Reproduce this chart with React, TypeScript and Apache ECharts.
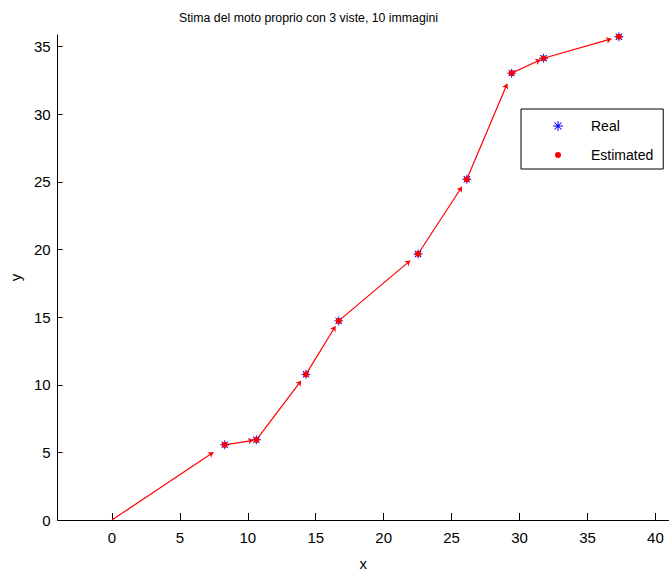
import React, { useEffect, useRef } from "react";
import * as echarts from "echarts";

// Trajectory starts at the origin (first frame, no marker drawn there)
const startX = 0;
const startY = 0;

// Camera positions, ground truth
const realX = [8.3, 10.63, 14.28, 16.69, 22.53, 26.12, 29.42, 31.77, 37.31];
const realY = [5.56, 5.93, 10.77, 14.72, 19.67, 25.19, 33.04, 34.14, 35.73];

// Camera positions, estimated
const estX = [8.3, 10.63, 14.28, 16.69, 22.53, 26.12, 29.42, 31.77, 37.31];
const estY = [5.56, 5.93, 10.77, 14.72, 19.67, 25.19, 33.04, 34.14, 35.73];

// Axis ticks
const xTicks = [0, 5, 10, 15, 20, 25, 30, 35, 40];
const yTicks = [0, 5, 10, 15, 20, 25, 30, 35];
const xRange = [-4, 41];
const yRange = [0, 35.86];

// quiver-like arrows shrink to 90% of the step between consecutive frames
const ARROW_SCALE = 0.9;

const FONT = "'Liberation Sans', Arial, sans-serif";

const asterisk =
  "path://M0,4.5H10V5.5H0Z M4.5,0H5.5V10H4.5Z " +
  "M1.854,1.146L8.854,8.146L8.146,8.854L1.146,1.854Z " +
  "M8.854,1.854L1.854,8.854L1.146,8.146L8.146,1.146Z";
const smallDot = "path://M0,0 M10,10 M5,2 A3,3 0 1 1 5,8 A3,3 0 1 1 5,2 Z";

export default function App() {
  const ref = useRef<HTMLDivElement>(null);

  useEffect(() => {
    if (!ref.current) return;
    const chart = echarts.init(ref.current, undefined, { renderer: "svg" });

    const pathX = [startX, ...estX];
    const pathY = [startY, ...estY];
    const arrows = pathX.slice(0, -1).map((x, i) => {
      const y = pathY[i];
      const dx = pathX[i + 1] - x;
      const dy = pathY[i + 1] - y;
      return { coords: [[x, y], [x + ARROW_SCALE * dx, y + ARROW_SCALE * dy]] };
    });

    const axisCommon = {
      type: "value" as const,
      axisLine: { onZero: false, lineStyle: { color: "#000", width: 1 } },
      splitLine: { show: false },
      nameTextStyle: { fontFamily: FONT, fontSize: 15, color: "#000" },
    };

    chart.setOption({
      animation: false,
      backgroundColor: "#fff",
      title: {
        text: "Stima del moto proprio con 3 viste, 10 immagini",
        left: 308.5,
        top: 12,
        padding: 0,
        textAlign: "center",
        textStyle: { fontFamily: FONT, fontSize: 12.3, fontWeight: "normal", color: "#000" },
      },
      grid: { left: 57, right: 0, top: 35, bottom: 53.7, containLabel: false },
      xAxis: {
        ...axisCommon,
        min: xRange[0],
        max: xRange[1],
        name: "x",
        nameLocation: "middle",
        nameGap: 36,
        axisTick: { inside: true, length: 7, customValues: xTicks, lineStyle: { color: "#000" } },
        axisLabel: {
          customValues: xTicks,
          margin: 10,
          fontFamily: FONT,
          fontSize: 15,
          color: "#000",
        },
      },
      yAxis: {
        ...axisCommon,
        min: yRange[0],
        max: yRange[1],
        name: "y",
        nameLocation: "middle",
        nameGap: 30,
        axisTick: { inside: true, length: 5, customValues: yTicks, lineStyle: { color: "#000" } },
        axisLabel: {
          customValues: yTicks,
          margin: 7,
          fontFamily: FONT,
          fontSize: 15,
          color: "#000",
        },
      },
      legend: {
        orient: "vertical",
        left: 521,
        top: 109,
        itemWidth: 56,
        itemHeight: 10,
        itemGap: 15,
        padding: [10, 10, 7, 32],
        borderColor: "#000",
        borderWidth: 1,
        backgroundColor: "#fff",
        selectedMode: false,
        textStyle: { fontFamily: FONT, fontSize: 14, color: "#000" },
        data: [
          { name: "Real", icon: asterisk },
          { name: "Estimated", icon: smallDot },
        ],
      },
      series: [
        {
          name: "Motion",
          type: "lines",
          coordinateSystem: "cartesian2d",
          polyline: false,
          symbol: ["none", "arrow"],
          symbolSize: 5,
          lineStyle: { color: "#ff0000", width: 1.2, opacity: 1 },
          data: arrows,
          z: 1,
        },
        {
          name: "Real",
          type: "scatter",
          symbol: asterisk,
          symbolSize: 9,
          itemStyle: { color: "#0000ff", opacity: 1 },
          data: realX.map((x, i) => [x, realY[i]]),
          z: 2,
        },
        {
          name: "Estimated",
          type: "scatter",
          symbol: "circle",
          symbolSize: 6,
          itemStyle: { color: "#ff0000", opacity: 1 },
          data: estX.map((x, i) => [x, estY[i]]),
          z: 3,
        },
      ],
    });

    return () => chart.dispose();
  }, []);

  return (
    <div
      ref={ref}
      style={{ position: "absolute", left: 0, top: 0, width: 669, height: 576 }}
    />
  );
}
